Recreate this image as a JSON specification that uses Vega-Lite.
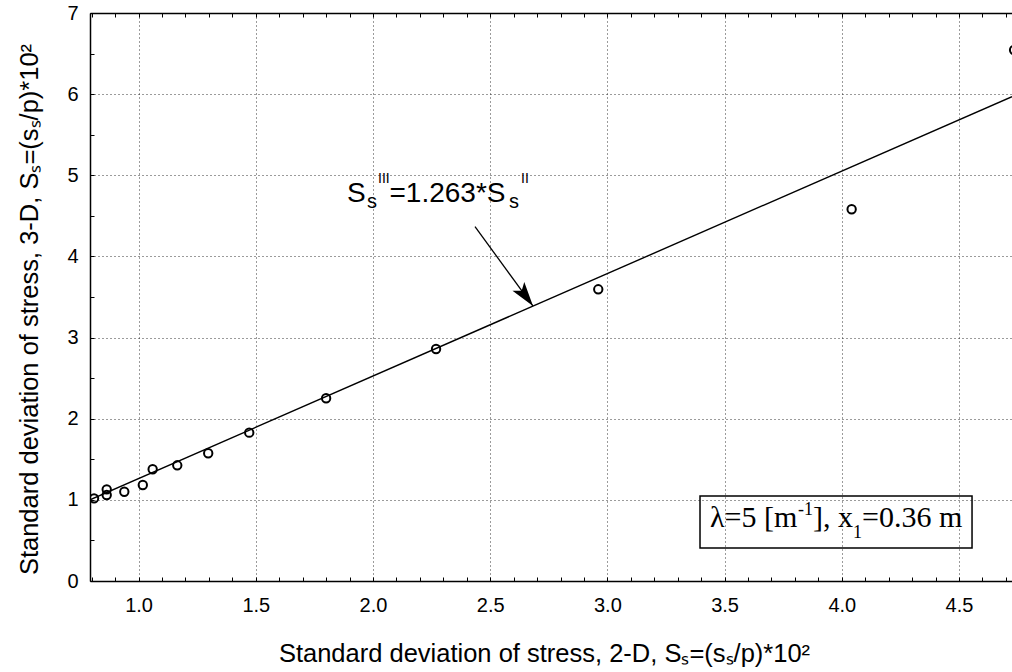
{
  "$schema": "https://vega.github.io/schema/vega-lite/v6.json",
  "width": 922,
  "height": 568,
  "autosize": {"type": "none"},
  "padding": {"left": 90, "top": 13, "right": 0, "bottom": 91},
  "background": "white",
  "config": {"view": {"stroke": null}, "font": "Liberation Sans"},
  "datasets": {
    "points": [
      {"x": 0.810, "y": 1.019},
      {"x": 0.864, "y": 1.130},
      {"x": 0.864, "y": 1.060},
      {"x": 0.939, "y": 1.100},
      {"x": 1.018, "y": 1.183},
      {"x": 1.060, "y": 1.377},
      {"x": 1.165, "y": 1.426},
      {"x": 1.297, "y": 1.574},
      {"x": 1.472, "y": 1.828},
      {"x": 1.800, "y": 2.252},
      {"x": 2.269, "y": 2.859},
      {"x": 2.961, "y": 3.595},
      {"x": 4.042, "y": 4.581},
      {"x": 4.735, "y": 6.544}
    ],
    "fit": [{"x": 0.7927, "y": 1.0012}, {"x": 4.7261, "y": 5.969}],
    "arrow": [{"x": 2.4352, "y": 4.367, "x2": 2.6827, "y2": 3.388}],
    "arrowTip": [{"x": 2.6827, "y": 3.388}],
    "eqBig": [{"t": "S", "x": 1.889, "y": 4.671}, {"t": "=1.263*S", "x": 2.0705, "y": 4.671}],
    "eqSub": [{"t": "s", "x": 1.974, "y": 4.597}, {"t": "s", "x": 2.5802, "y": 4.597}],
    "eqSup": [{"t": "III", "x": 2.0214, "y": 4.899}, {"t": "II", "x": 2.6314, "y": 4.899}],
    "box": [{"x": 3.3951, "x2": 4.5556, "y": 1.0476, "y2": 0.4067}],
    "boxMain": [{"t": "λ=5 [m", "x": 3.4378, "y": 0.6655}, {"t": "], x", "x": 3.8772, "y": 0.6655}, {"t": "=0.36 m", "x": 4.0863, "y": 0.6655}],
    "boxSup": [{"t": "-1", "x": 3.8132, "y": 0.8134}],
    "boxSub": [{"t": "1", "x": 4.0479, "y": 0.53}]
  },
  "layer": [
    {
      "data": {"name": "points"},
      "mark": {"type": "point", "shape": "circle", "filled": false, "stroke": "black", "strokeWidth": 2, "size": 70, "opacity": 1, "clip": true},
      "encoding": {
        "x": {
          "field": "x", "type": "quantitative",
          "scale": {"domain": [0.7927, 4.7261], "nice": false, "zero": false},
          "axis": {
            "orient": "bottom",
            "values": [0.8, 0.9, 1.0, 1.1, 1.2, 1.3, 1.4, 1.5, 1.6, 1.7, 1.8, 1.9, 2.0, 2.1, 2.2, 2.3, 2.4, 2.5, 2.6, 2.7, 2.8, 2.9, 3.0, 3.1, 3.2, 3.3, 3.4, 3.5, 3.6, 3.7, 3.8, 3.9, 4.0, 4.1, 4.2, 4.3, 4.4, 4.5, 4.6, 4.7],
            "labelExpr": "abs(datum.value*2-round(datum.value*2))<0.001 ? format(datum.value,'.1f') : ''",
            "labelOverlap": false,
            "labelFlush": false,
            "labelFont": "Liberation Sans",
            "labelFontSize": 20,
            "labelColor": "black",
            "labelPadding": 18.5,
            "tickSize": -4,
            "tickColor": "black",
            "tickWidth": 1,
            "domainColor": "black",
            "domainWidth": 1.5,
            "grid": true,
            "gridDash": [1, 3],
            "gridColor": "#222222",
            "gridWidth": 1,
            "gridOpacity": {"condition": {"test": "abs(datum.value*2-round(datum.value*2))<0.001", "value": 0.9}, "value": 0},
            "title": "Standard deviation of stress, 2-D, Sₛ=(sₛ/p)*10²",
            "titleFont": "Liberation Sans",
            "titleFontSize": 25.5,
            "titleFontWeight": "normal",
            "titleColor": "black",
            "titleX": 454,
            "titleY": 80,
            "titleBaseline": "alphabetic"
          }
        },
        "y": {
          "field": "y", "type": "quantitative",
          "scale": {"domain": [0, 7], "nice": false, "zero": false},
          "axis": {
            "values": [0, 0.25, 0.5, 0.75, 1, 1.25, 1.5, 1.75, 2, 2.25, 2.5, 2.75, 3, 3.25, 3.5, 3.75, 4, 4.25, 4.5, 4.75, 5, 5.25, 5.5, 5.75, 6, 6.25, 6.5, 6.75, 7],
            "labelExpr": "abs(datum.value-round(datum.value))<0.001 ? format(datum.value,'d') : ''",
            "labelOverlap": false,
            "labelFlush": false,
            "labelFont": "Liberation Sans",
            "labelFontSize": 20,
            "labelColor": "black",
            "labelPadding": 16,
            "tickSize": -4,
            "tickColor": "black",
            "tickWidth": 1,
            "domainColor": "black",
            "domainWidth": 1.5,
            "grid": true,
            "gridDash": [1, 3],
            "gridColor": "#222222",
            "gridWidth": 1,
            "gridOpacity": {"condition": {"test": "abs(datum.value-round(datum.value))<0.001", "value": 0.9}, "value": 0},
            "title": "Standard deviation of stress, 3-D, Sₛ=(sₛ/p)*10²",
            "titleFont": "Liberation Sans",
            "titleFontSize": 25.5,
            "titleFontWeight": "normal",
            "titleColor": "black",
            "titleX": -53,
            "titleY": 296,
            "titleBaseline": "alphabetic"
          }
        }
      }
    },
    {
      "data": {"name": "fit"},
      "mark": {"type": "line", "color": "black", "strokeWidth": 1.4, "clip": true},
      "encoding": {
        "x": {
          "field": "x", "type": "quantitative",
          "axis": {
            "orient": "top",
            "values": [0.8, 0.9, 1.0, 1.1, 1.2, 1.3, 1.4, 1.5, 1.6, 1.7, 1.8, 1.9, 2.0, 2.1, 2.2, 2.3, 2.4, 2.5, 2.6, 2.7, 2.8, 2.9, 3.0, 3.1, 3.2, 3.3, 3.4, 3.5, 3.6, 3.7, 3.8, 3.9, 4.0, 4.1, 4.2, 4.3, 4.4, 4.5, 4.6, 4.7],
            "labels": false,
            "grid": false,
            "tickSize": -4,
            "tickColor": "black",
            "tickWidth": 1,
            "domainColor": "black",
            "domainWidth": 1.5,
            "title": null
          }
        },
        "y": {"field": "y", "type": "quantitative"}
      }
    },
    {
      "data": {"name": "arrow"},
      "mark": {"type": "rule", "color": "black", "strokeWidth": 1.3},
      "encoding": {
        "x": {"field": "x", "type": "quantitative", "axis": null},
        "y": {"field": "y", "type": "quantitative"},
        "x2": {"field": "x2"},
        "y2": {"field": "y2"}
      }
    },
    {
      "data": {"name": "arrowTip"},
      "mark": {"type": "point", "shape": "M0,0L0.6,2L0,1.55L-0.6,2Z", "filled": true, "fill": "black", "stroke": null, "opacity": 1, "fillOpacity": 1, "size": 600, "angle": 143.3},
      "encoding": {
        "x": {"field": "x", "type": "quantitative", "axis": null},
        "y": {"field": "y", "type": "quantitative"}
      }
    },
    {
      "data": {"name": "eqBig"},
      "mark": {"type": "text", "align": "left", "baseline": "alphabetic", "font": "Liberation Sans", "fontSize": 28, "color": "black"},
      "encoding": {
        "x": {"field": "x", "type": "quantitative", "axis": null},
        "y": {"field": "y", "type": "quantitative"},
        "text": {"field": "t"}
      }
    },
    {
      "data": {"name": "eqSub"},
      "mark": {"type": "text", "align": "left", "baseline": "alphabetic", "font": "Liberation Sans", "fontSize": 20, "color": "black"},
      "encoding": {
        "x": {"field": "x", "type": "quantitative", "axis": null},
        "y": {"field": "y", "type": "quantitative"},
        "text": {"field": "t"}
      }
    },
    {
      "data": {"name": "eqSup"},
      "mark": {"type": "text", "align": "left", "baseline": "alphabetic", "font": "Liberation Sans", "fontSize": 14, "color": "black"},
      "encoding": {
        "x": {"field": "x", "type": "quantitative", "axis": null},
        "y": {"field": "y", "type": "quantitative"},
        "text": {"field": "t"}
      }
    },
    {
      "data": {"name": "box"},
      "mark": {"type": "rect", "fillOpacity": 0, "fill": "white", "stroke": "black", "strokeWidth": 1.5},
      "encoding": {
        "x": {"field": "x", "type": "quantitative", "axis": null},
        "x2": {"field": "x2"},
        "y": {"field": "y", "type": "quantitative"},
        "y2": {"field": "y2"}
      }
    },
    {
      "data": {"name": "boxMain"},
      "mark": {"type": "text", "align": "left", "baseline": "alphabetic", "font": "Liberation Serif", "fontSize": 30, "color": "black"},
      "encoding": {
        "x": {"field": "x", "type": "quantitative", "axis": null},
        "y": {"field": "y", "type": "quantitative"},
        "text": {"field": "t"}
      }
    },
    {
      "data": {"name": "boxSup"},
      "mark": {"type": "text", "align": "left", "baseline": "alphabetic", "font": "Liberation Serif", "fontSize": 18, "color": "black"},
      "encoding": {
        "x": {"field": "x", "type": "quantitative", "axis": null},
        "y": {"field": "y", "type": "quantitative"},
        "text": {"field": "t"}
      }
    },
    {
      "data": {"name": "boxSub"},
      "mark": {"type": "text", "align": "left", "baseline": "alphabetic", "font": "Liberation Serif", "fontSize": 18, "color": "black"},
      "encoding": {
        "x": {"field": "x", "type": "quantitative", "axis": null},
        "y": {"field": "y", "type": "quantitative"},
        "text": {"field": "t"}
      }
    }
  ],
  "resolve": {"axis": {"x": "independent"}}
}
